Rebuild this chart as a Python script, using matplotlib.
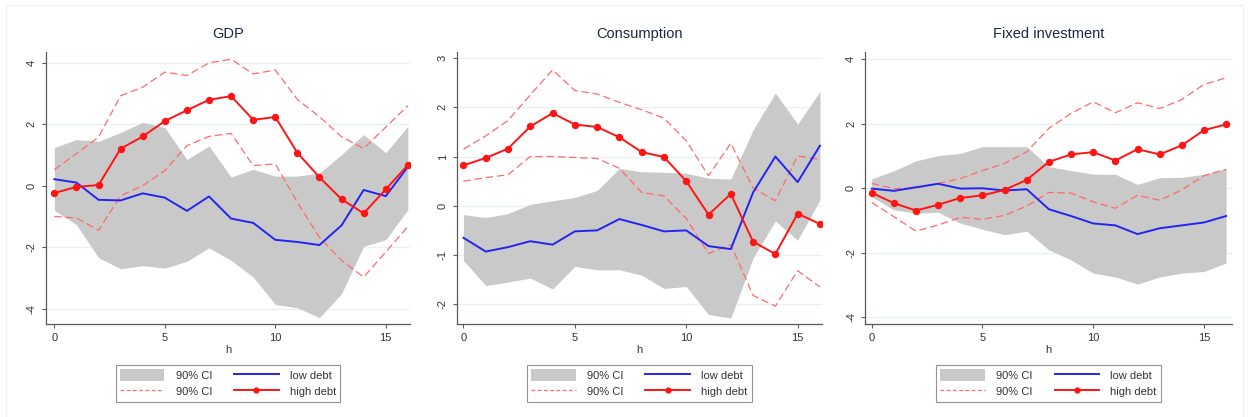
import numpy as np
import matplotlib.pyplot as plt
from matplotlib.patches import Patch, Rectangle
from matplotlib.lines import Line2D

plt.rcParams["font.family"] = ["Liberation Sans", "DejaVu Sans"]

h = np.arange(17)

# GDP
gdp_high = [-0.24, -0.04, 0.02, 1.20, 1.60, 2.10, 2.45, 2.79, 2.91, 2.14, 2.23, 1.07, 0.27, -0.44, -0.90, -0.12, 0.67]
gdp_high_up = [0.52, 1.04, 1.58, 2.92, 3.20, 3.69, 3.58, 3.99, 4.11, 3.63, 3.76, 2.80, 2.24, 1.59, 1.21, 1.90, 2.60]
gdp_high_lo = [-1.00, -1.05, -1.45, -0.33, 0.00, 0.49, 1.30, 1.60, 1.70, 0.65, 0.71, -0.54, -1.68, -2.43, -2.97, -2.16, -1.33]
gdp_low = [0.21, 0.10, -0.46, -0.48, -0.25, -0.39, -0.82, -0.35, -1.07, -1.21, -1.76, -1.83, -1.93, -1.29, -0.14, -0.34, 0.61]
gdp_low_up = [1.24, 1.50, 1.44, 1.73, 2.06, 1.89, 0.85, 1.29, 0.28, 0.53, 0.31, 0.31, 0.41, 1.01, 1.66, 1.07, 1.93]
gdp_low_lo = [-0.80, -1.27, -2.34, -2.70, -2.60, -2.68, -2.46, -2.02, -2.43, -2.97, -3.86, -3.97, -4.29, -3.51, -1.97, -1.76, -0.78]

# Consumption
cons_high = [0.82, 0.97, 1.16, 1.61, 1.88, 1.65, 1.60, 1.39, 1.09, 0.99, 0.50, -0.18, 0.24, -0.73, -0.98, -0.16, -0.37]
cons_high_up = [1.15, 1.42, 1.73, 2.25, 2.76, 2.34, 2.27, 2.10, 1.95, 1.78, 1.32, 0.61, 1.27, 0.36, 0.10, 1.01, 0.94]
cons_high_lo = [0.50, 0.57, 0.63, 1.00, 1.00, 0.98, 0.96, 0.76, 0.27, 0.20, -0.26, -0.97, -0.79, -1.82, -2.04, -1.32, -1.65]
cons_low = [-0.65, -0.93, -0.84, -0.72, -0.79, -0.52, -0.50, -0.27, -0.39, -0.52, -0.50, -0.82, -0.88, 0.27, 1.00, 0.48, 1.22]
cons_low_up = [-0.18, -0.24, -0.16, 0.03, 0.10, 0.17, 0.31, 0.76, 0.69, 0.68, 0.66, 0.56, 0.54, 1.54, 2.29, 1.66, 2.32]
cons_low_lo = [-1.11, -1.62, -1.55, -1.47, -1.69, -1.23, -1.30, -1.30, -1.41, -1.68, -1.64, -2.21, -2.28, -1.06, -0.31, -0.70, 0.12]

# Fixed investment
inv_high = [-0.14, -0.46, -0.69, -0.51, -0.30, -0.22, -0.05, 0.26, 0.82, 1.05, 1.12, 0.86, 1.21, 1.05, 1.33, 1.80, 1.98]
inv_high_up = [0.15, -0.01, 0.01, 0.15, 0.30, 0.55, 0.77, 1.13, 1.86, 2.32, 2.68, 2.34, 2.65, 2.47, 2.75, 3.22, 3.42]
inv_high_lo = [-0.44, -0.88, -1.33, -1.14, -0.90, -0.96, -0.84, -0.55, -0.13, -0.15, -0.42, -0.62, -0.22, -0.37, -0.05, 0.39, 0.59]
inv_low = [-0.01, -0.08, 0.03, 0.14, -0.01, 0.00, -0.07, -0.03, -0.65, -0.86, -1.09, -1.15, -1.42, -1.24, -1.15, -1.06, -0.86]
inv_low_up = [0.29, 0.54, 0.85, 1.01, 1.08, 1.29, 1.29, 1.29, 0.67, 0.55, 0.44, 0.43, 0.12, 0.33, 0.34, 0.43, 0.62]
inv_low_lo = [-0.26, -0.67, -0.77, -0.74, -1.08, -1.27, -1.44, -1.33, -1.91, -2.22, -2.63, -2.75, -2.97, -2.75, -2.63, -2.58, -2.32]

titles = ["GDP", "Consumption", "Fixed investment"]
yticks = [[-4, -2, 0, 2, 4], [-2, -1, 0, 1, 2, 3], [-4, -2, 0, 2, 4]]
ylims = [(-4.51, 4.34), (-2.41, 3.12), (-4.22, 4.22)]
xlims = [(-0.38, 16.1), (-0.3, 16.08), (-0.3, 16.25)]
lefts = [0.0368, 0.3657, 0.6926]
widths = [0.2915, 0.2922, 0.2935]

panels = [
    (gdp_high, gdp_high_up, gdp_high_lo, gdp_low, gdp_low_up, gdp_low_lo),
    (cons_high, cons_high_up, cons_high_lo, cons_low, cons_low_up, cons_low_lo),
    (inv_high, inv_high_up, inv_high_lo, inv_low, inv_low_up, inv_low_lo),
]

BAND = "#c9c9c9"
RED = "#ff1414"
DASH = "#ff6b6b"
BLUE = "#2424f0"
AXC = "#5a5a5a"
TXT = "#333333"

fig = plt.figure(figsize=(12.49, 4.17), dpi=100)
fig.patches.append(Rectangle((0.005, -0.01), 0.99, 0.998, transform=fig.transFigure,
                             fill=False, edgecolor="#f0f0f0", lw=0.8))

for i, (hi, hi_up, hi_lo, lo, lo_up, lo_lo) in enumerate(panels):
    ax = fig.add_axes([lefts[i], 0.222, widths[i], 0.653])
    for y in yticks[i]:
        ax.axhline(y, color="#eaf1f2", lw=1.0, zorder=0)
    ax.fill_between(h, lo_lo, lo_up, color=BAND, lw=0, zorder=1)
    ax.plot(h, hi_up, color=DASH, lw=0.9, ls=(0, (6, 3)), zorder=2)
    ax.plot(h, hi_lo, color=DASH, lw=0.9, ls=(0, (6, 3)), zorder=2)
    ax.plot(h, lo, color=BLUE, lw=1.4, zorder=3)
    ax.plot(h, hi, color=RED, lw=1.4, marker="o", ms=4.3, zorder=4)

    ax.set_xlim(*xlims[i])
    ax.set_ylim(*ylims[i])
    ax.set_xticks([0, 5, 10, 15])
    ax.set_yticks(yticks[i])
    ax.set_yticklabels([str(v) for v in yticks[i]], rotation=90, va="center")
    ax.tick_params(colors=AXC, labelcolor=TXT, labelsize=8, length=3, width=0.8)
    for s in ["top", "right"]:
        ax.spines[s].set_visible(False)
    for s in ["left", "bottom"]:
        ax.spines[s].set_color(AXC)
        ax.spines[s].set_linewidth(0.9)
    ax.set_xlabel("h", fontsize=8, color=TXT, labelpad=1)
    ax.set_title(titles[i], fontsize=10.5, color="#1e2640", pad=10)

    handles = [Patch(facecolor=BAND, edgecolor="none"),
               Line2D([], [], color=DASH, lw=0.9, ls=(0, (3, 2))),
               Line2D([], [], color=BLUE, lw=1.4),
               Line2D([], [], color=RED, lw=1.4, marker="o", ms=3.5)]
    labels = ["90% CI", "90% CI", "low debt", "high debt"]
    leg = ax.legend(handles, labels, ncol=2, loc="upper center", bbox_to_anchor=(0.5, -0.128),
                    fontsize=8, frameon=True, fancybox=False, edgecolor="#777777",
                    handlelength=4.0, handleheight=1.2, columnspacing=2.0, borderpad=0.4,
                    labelspacing=0.45, handletextpad=1.0)
    leg.get_frame().set_linewidth(0.8)
    for t in leg.get_texts():
        t.set_color(TXT)

fig.savefig("out.png", dpi=100)
